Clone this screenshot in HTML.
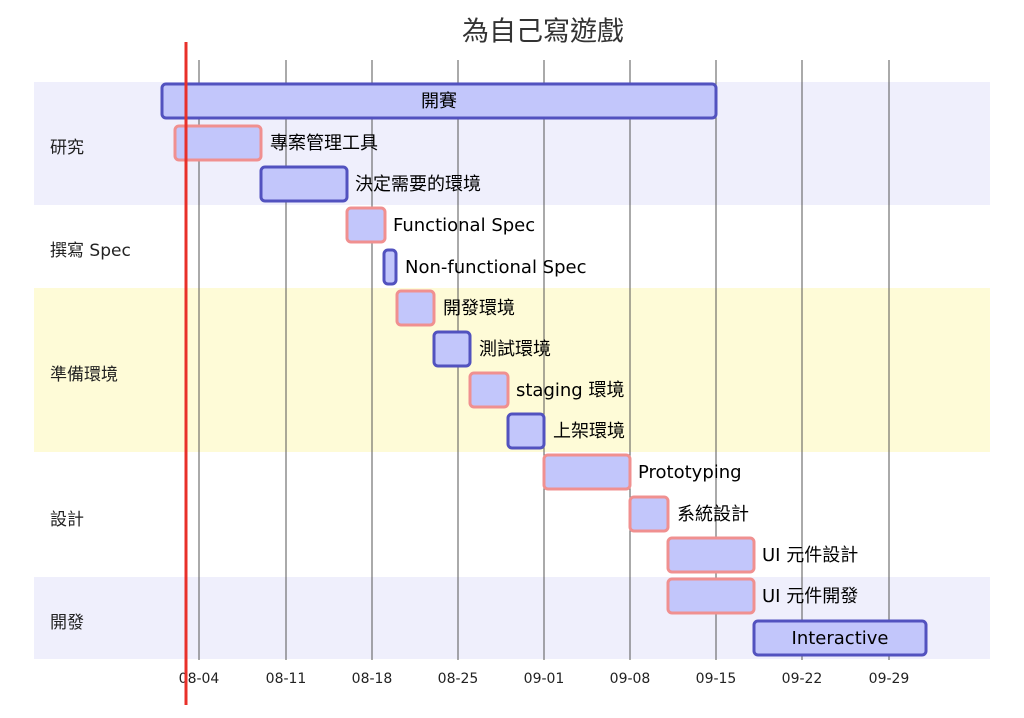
<!DOCTYPE html>
<html><head><meta charset="utf-8"><style>
html,body{margin:0;padding:0;background:#fff;}
svg{display:block;font-family:"DejaVu Sans","Noto Sans CJK TC",sans-serif;}
.b{fill:#c2c6fb;stroke:#5252bf;stroke-width:3;}
.r{fill:#c2c6fb;stroke:#f09090;stroke-width:3;}
.t{font-size:18px;fill:#000;dominant-baseline:middle;}
.s{font-size:17px;fill:#222;dominant-baseline:middle;}
.g{stroke:#555;stroke-width:1;}
.x{font-size:14px;fill:#222;text-anchor:middle;}
</style></head><body>
<svg width="1024" height="718" viewBox="0 0 1024 718">
<text x="543" y="33" font-size="27" text-anchor="middle" fill="#333" dominant-baseline="middle" font-family="Noto Sans CJK TC, sans-serif">為自己寫遊戲</text>
<rect x="34" y="82" width="956" height="123" fill="#efeffc"/>
<rect x="34" y="288" width="956" height="164" fill="#fefbd7"/>
<rect x="34" y="577" width="956" height="82" fill="#efeffc"/>
<g class="g">
<line x1="199" y1="60" x2="199" y2="660"/><line x1="286" y1="60" x2="286" y2="660"/>
<line x1="372" y1="60" x2="372" y2="660"/><line x1="458" y1="60" x2="458" y2="660"/>
<line x1="544" y1="60" x2="544" y2="660"/><line x1="630" y1="60" x2="630" y2="660"/>
<line x1="716" y1="60" x2="716" y2="660"/><line x1="802" y1="60" x2="802" y2="660"/>
<line x1="889" y1="60" x2="889" y2="660"/>
</g>
<g class="x">
<text x="199" y="683">08-04</text><text x="286" y="683">08-11</text><text x="372" y="683">08-18</text>
<text x="458" y="683">08-25</text><text x="544" y="683">09-01</text><text x="630" y="683">09-08</text>
<text x="716" y="683">09-15</text><text x="802" y="683">09-22</text><text x="889" y="683">09-29</text>
</g>
<g class="s">
<text x="50" y="148">研究</text><text x="50" y="251">撰寫 Spec</text>
<text x="50" y="375">準備環境</text><text x="50" y="520">設計</text><text x="50" y="623">開發</text>
</g>
<rect class="b" x="162" y="84" width="554" height="34" rx="4"/>
<text class="t" x="439" y="102" text-anchor="middle">開賽</text>
<rect class="r" x="175" y="126" width="86" height="34" rx="4"/><text class="t" x="270" y="144">專案管理工具</text>
<rect class="b" x="261" y="167" width="86" height="34" rx="4"/><text class="t" x="355" y="185">決定需要的環境</text>
<rect class="r" x="347" y="208" width="38" height="34" rx="4"/><text class="t" x="393" y="226">Functional Spec</text>
<rect class="b" x="384" y="250" width="12" height="34" rx="4"/><text class="t" x="405" y="268">Non-functional Spec</text>
<rect class="r" x="397" y="291" width="37" height="34" rx="4"/><text class="t" x="443" y="309">開發環境</text>
<rect class="b" x="434" y="332" width="36" height="34" rx="4"/><text class="t" x="479" y="350">測試環境</text>
<rect class="r" x="470" y="373" width="38" height="34" rx="4"/><text class="t" x="516" y="391">staging 環境</text>
<rect class="b" x="508" y="414" width="36" height="34" rx="4"/><text class="t" x="553" y="432">上架環境</text>
<rect class="r" x="544" y="455" width="86" height="34" rx="4"/><text class="t" x="638" y="473">Prototyping</text>
<rect class="r" x="630" y="497" width="38" height="34" rx="4"/><text class="t" x="677" y="515">系統設計</text>
<rect class="r" x="668" y="538" width="86" height="34" rx="4"/><text class="t" x="762" y="556">UI 元件設計</text>
<rect class="r" x="668" y="579" width="86" height="34" rx="4"/><text class="t" x="762" y="597">UI 元件開發</text>
<rect class="b" x="754" y="621" width="172" height="34" rx="4"/>
<text class="t" x="840" y="639" text-anchor="middle">Interactive</text>
<line x1="186" y1="42" x2="186" y2="705" stroke="#e8302a" stroke-width="3"/>
</svg>
</body></html>
